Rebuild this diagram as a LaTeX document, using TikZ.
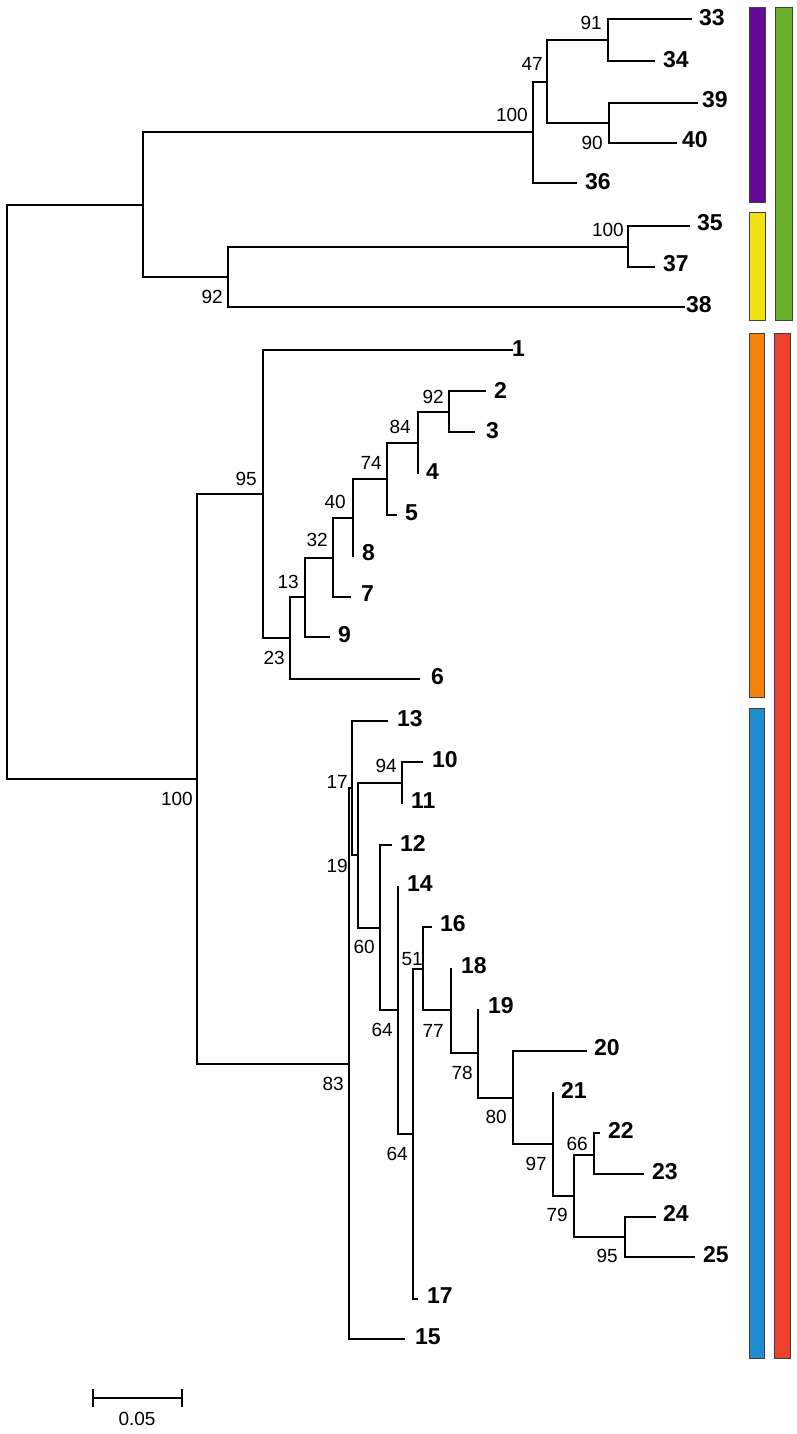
\documentclass[tikz,border=0pt]{standalone}
\usepackage{fontspec}
\setmainfont{Liberation Sans}
\definecolor{cPurple}{HTML}{640A96}
\definecolor{cGreen}{HTML}{6AB02C}
\definecolor{cYellow}{HTML}{F0E014}
\definecolor{cOrange}{HTML}{F5820A}
\definecolor{cRed}{HTML}{EB412D}
\definecolor{cBlue}{HTML}{1E8CCD}
\begin{document}
\begin{tikzpicture}[x=1pt,y=-1pt,
  br/.style={line width=1.9pt},
  leaf/.style={font=\fontsize{23}{26}\selectfont\bfseries, anchor=west, inner sep=0pt},
  bs/.style={font=\fontsize{19}{22}\selectfont, anchor=east, inner sep=0pt},
  cbar/.style={draw=black!75, line width=0.8pt}]
\useasboundingbox (0,0) rectangle (797,1434);
% ---------- coordinates: top clade
\coordinate (t33) at (692,19);  \coordinate (t34) at (655,61);  \coordinate (n91) at (608,40);
\coordinate (t39) at (698,103); \coordinate (t40) at (677,143); \coordinate (n90) at (609,123);
\coordinate (n47) at (547,82);
\coordinate (t36) at (577,183);
\coordinate (n100a) at (533,132);
\coordinate (t35) at (690,226); \coordinate (t37) at (655,267); \coordinate (n100b) at (628,247);
\coordinate (t38) at (685,307);
\coordinate (n92a) at (228,277);
\coordinate (ntop) at (143,205);
\coordinate (root) at (7,492);
% ---------- orange clade
\coordinate (t1) at (513,350);
\coordinate (t2) at (486,391); \coordinate (t3) at (475,432); \coordinate (n92b) at (449,412);
\coordinate (t4) at (418,474); \coordinate (n84) at (418,443);
\coordinate (t5) at (397,515); \coordinate (n74) at (387,479);
\coordinate (t8) at (353,557); \coordinate (n40) at (353,518);
\coordinate (t7) at (351,597); \coordinate (n32) at (333,558);
\coordinate (t9) at (330,637); \coordinate (n13) at (305,597);
\coordinate (t6) at (420,679); \coordinate (n23) at (290,638);
\coordinate (n95) at (263,494);
\coordinate (n100m) at (197,779);
% ---------- blue clade
\coordinate (n83) at (349,1064);
\coordinate (t15) at (405,1339);
\coordinate (nA) at (352,788);
\coordinate (t13) at (388,721);
\coordinate (nB) at (358,855);
\coordinate (n94) at (402,783);
\coordinate (t10) at (423,762); \coordinate (t11) at (402,804);
\coordinate (nC) at (380,928);
\coordinate (t12) at (392,845);
\coordinate (nD) at (398,1010);
\coordinate (t14) at (398,886);
\coordinate (nE) at (413,1134);
\coordinate (nF) at (423,969);
\coordinate (t17) at (418,1299);
\coordinate (t16) at (432,927);
\coordinate (nG) at (451,1010);
\coordinate (t18) at (451,968);
\coordinate (nH) at (478,1053);
\coordinate (t19) at (478,1009);
\coordinate (nI) at (513,1098);
\coordinate (t20) at (587,1051);
\coordinate (nJ) at (553,1144);
\coordinate (t21) at (553,1092);
\coordinate (nK) at (574,1196);
\coordinate (nL) at (594,1155);
\coordinate (t22) at (600,1133); \coordinate (t23) at (644,1174);
\coordinate (nM) at (625,1237);
\coordinate (t24) at (656,1217); \coordinate (t25) at (695,1257);
% ---------- branches
\draw[br] (root) |- (ntop);
\draw[br] (root) |- (n100m);
\draw[br] (ntop) |- (n100a);
\draw[br] (ntop) |- (n92a);
\draw[br] (n100a) |- (n47);
\draw[br] (n100a) |- (t36);
\draw[br] (n47) |- (n91);
\draw[br] (n47) |- (n90);
\draw[br] (n91) |- (t33);
\draw[br] (n91) |- (t34);
\draw[br] (n90) |- (t39);
\draw[br] (n90) |- (t40);
\draw[br] (n92a) |- (n100b);
\draw[br] (n92a) |- (t38);
\draw[br] (n100b) |- (t35);
\draw[br] (n100b) |- (t37);
% orange
\draw[br] (n100m) |- (n95);
\draw[br] (n100m) |- (n83);
\draw[br] (n95) |- (t1);
\draw[br] (n95) |- (n23);
\draw[br] (n23) |- (n13);
\draw[br] (n23) |- (t6);
\draw[br] (n13) |- (n32);
\draw[br] (n13) |- (t9);
\draw[br] (n32) |- (n40);
\draw[br] (n32) |- (t7);
\draw[br] (n40) |- (n74);
\draw[br] (n40) |- (t8);
\draw[br] (n74) |- (n84);
\draw[br] (n74) |- (t5);
\draw[br] (n84) |- (n92b);
\draw[br] (n84) |- (t4);
\draw[br] (n92b) |- (t2);
\draw[br] (n92b) |- (t3);
% blue
\draw[br] (n83) |- (nA);
\draw[br] (n83) |- (t15);
\draw[br] (nA) |- (t13);
\draw[br] (nA) |- (nB);
\draw[br] (nB) |- (n94);
\draw[br] (nB) |- (nC);
\draw[br] (n94) |- (t10);
\draw[br] (n94) |- (t11);
\draw[br] (nC) |- (t12);
\draw[br] (nC) |- (nD);
\draw[br] (nD) |- (t14);
\draw[br] (nD) |- (nE);
\draw[br] (nE) |- (nF);
\draw[br] (nE) |- (t17);
\draw[br] (nF) |- (t16);
\draw[br] (nF) |- (nG);
\draw[br] (nG) |- (t18);
\draw[br] (nG) |- (nH);
\draw[br] (nH) |- (t19);
\draw[br] (nH) |- (nI);
\draw[br] (nI) |- (t20);
\draw[br] (nI) |- (nJ);
\draw[br] (nJ) |- (t21);
\draw[br] (nJ) |- (nK);
\draw[br] (nK) |- (nL);
\draw[br] (nK) |- (nM);
\draw[br] (nL) |- (t22);
\draw[br] (nL) |- (t23);
\draw[br] (nM) |- (t24);
\draw[br] (nM) |- (t25);
% ---------- leaf labels
\node[leaf] (l33) at (699,18) {33};
\node[leaf] (l34) at (663,60) {34};
\node[leaf] (l39) at (702,100) {39};
\node[leaf] (l40) at (682,140) {40};
\node[leaf] (l36) at (585,182) {36};
\node[leaf] (l35) at (697,223) {35};
\node[leaf] (l37) at (663,264) {37};
\node[leaf] (l38) at (686,305) {38};
\node[leaf] (l1) at (512,349) {1};
\node[leaf] (l2) at (494,390) {2};
\node[leaf] (l3) at (486,431) {3};
\node[leaf] (l4) at (426,472) {4};
\node[leaf] (l5) at (405,513) {5};
\node[leaf] (l8) at (362,553) {8};
\node[leaf] (l7) at (361,594) {7};
\node[leaf] (l9) at (338,635) {9};
\node[leaf] (l6) at (431,677) {6};
\node[leaf] (l13) at (397,719) {13};
\node[leaf] (l10) at (432,760) {10};
\node[leaf] (l11) at (411,801) {11};
\node[leaf] (l12) at (400,843) {12};
\node[leaf] (l14) at (407,884) {14};
\node[leaf] (l16) at (440,924) {16};
\node[leaf] (l18) at (461,966) {18};
\node[leaf] (l19) at (488,1006) {19};
\node[leaf] (l20) at (594,1048) {20};
\node[leaf] (l21) at (561,1090) {21};
\node[leaf] (l22) at (608,1130) {22};
\node[leaf] (l23) at (652,1172) {23};
\node[leaf] (l24) at (663,1213) {24};
\node[leaf] (l25) at (703,1255) {25};
\node[leaf] (l17) at (427,1296) {17};
\node[leaf] (l15) at (415,1337) {15};
% ---------- bootstrap labels
\node[bs] (b91) at (602,23) {91};
\node[bs] (b47) at (543,64) {47};
\node[bs] (b100a) at (528,115) {100};
\node[bs] (b90) at (603,143) {90};
\node[bs] (b100b) at (624,230) {100};
\node[bs] (b92a) at (223,297) {92};
\node[bs] (b95a) at (257,479) {95};
\node[bs] (b92b) at (444,397) {92};
\node[bs] (b84) at (411,427) {84};
\node[bs] (b74) at (382,463) {74};
\node[bs] (b40) at (346,502) {40};
\node[bs] (b32) at (328,540) {32};
\node[bs] (b13) at (299,582) {13};
\node[bs] (b23) at (285,658) {23};
\node[bs] (b100m) at (193,799) {100};
\node[bs] (b83) at (344,1084) {83};
\node[bs] (b17) at (348,782) {17};
\node[bs] (b19) at (348,866) {19};
\node[bs] (b60) at (375,947) {60};
\node[bs] (b64a) at (393,1030) {64};
\node[bs] (b94) at (397,766) {94};
\node[bs] (b64b) at (408,1154) {64};
\node[bs] (b51) at (423,959) {51};
\node[bs] (b77) at (444,1031) {77};
\node[bs] (b78) at (473,1073) {78};
\node[bs] (b80) at (507,1117) {80};
\node[bs] (b97) at (547,1164) {97};
\node[bs] (b66) at (588,1144) {66};
\node[bs] (b79) at (568,1215) {79};
\node[bs] (b95b) at (618,1256) {95};
% ---------- colour bars
\draw[cbar, fill=cPurple] (749,7) rectangle (765,202);
\draw[cbar, fill=cYellow] (749,212) rectangle (765,320);
\draw[cbar, fill=cGreen] (775,7) rectangle (792,320);
\draw[cbar, fill=cOrange] (749,333) rectangle (764,697);
\draw[cbar, fill=cBlue] (749,708) rectangle (764,1358);
\draw[cbar, fill=cRed] (774,333) rectangle (790,1358);
% ---------- scale bar
\coordinate (sbL) at (93,1398);
\coordinate (sbR) at (182,1398);
\draw[br] (sbL) -- (sbR);
\draw[br] (93,1389) -- (93,1407);
\draw[br] (182,1389) -- (182,1407);
\node[font=\fontsize{19}{22}\selectfont, inner sep=0pt] (sblabel) at (137,1419) {0.05};
\end{tikzpicture}
\end{document}
